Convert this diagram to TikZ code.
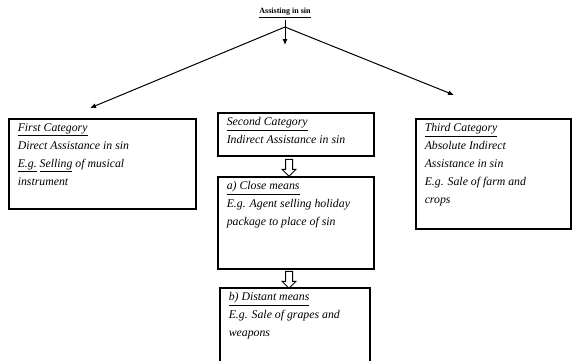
\documentclass[tikz,border=0pt]{standalone}
\usepackage{fontspec}
\setmainfont{Liberation Serif}
\usetikzlibrary{positioning, shapes, shapes.arrows, arrows.meta}

\begin{document}
\begin{tikzpicture}[
    x=1pt, y=-1pt,
    >=Latex,
    arr/.style={->, line width=1pt, >={Latex[length=6pt,width=5pt]}},
    box/.style={
        draw,
        line width=1.5pt,
        anchor=north west,
        inner xsep=9pt,
        inner ysep=5pt,
        align=left,
        font=\itshape\fontsize{11.8}{18}\selectfont
    },
    hollow/.style={
        draw,
        line width=1pt,
        single arrow,
        shape border rotate=270,
        minimum height=17pt,
        minimum width=14pt,
        single arrow head extend=3pt,
        inner sep=2.5pt
    }
]
  \useasboundingbox (0,0) rectangle (572,360);

  \node[font=\bfseries\fontsize{8}{9}\selectfont, inner sep=2pt] (title) at (285,13) {\underline{Assisting in sin}};
  \coordinate (apex) at (285,27);

  \node[box] (first) at (8,118)
    {\parbox[t][80pt][t]{169pt}{\underline{First Category}\\Direct Assistance in sin\\\underline{E.g.} \underline{Selling} of musical\\instrument}};
  \node[box] (second) at (217,112)
    {\parbox[t][33pt][t]{138pt}{\underline{Second Category}\\Indirect Assistance in sin}};
  \node[box] (close) at (217,176)
    {\parbox[t][82pt][t]{138pt}{\underline{a) Close means}\\E.g. Agent selling holiday\\package to place of sin}};
  \node[box] (distant) at (219,287)
    {\parbox[t][70pt][t]{132pt}{\underline{b) Distant means}\\E.g. Sale of grapes and\\weapons}};
  \node[box] (third) at (415,118)
    {\parbox[t][100pt][t]{137pt}{\underline{Third Category}\\Absolute Indirect\\Assistance in sin\\E.g. Sale of farm and\\crops}};

  % arrows from the title
  \coordinate (firstend) at (90,108);
  \coordinate (secondend) at (285,45);
  \coordinate (thirdend) at (454,95);
  \draw[arr] (apex) -- (firstend);
  \draw[arr] (apex) -- (secondend);
  \draw[arr] (apex) -- (thirdend);
  \draw[line width=1pt] (title.south) -- (apex);

  % block arrows
  \node[hollow] (down1) at (289,166) {};
  \node[hollow] (down2) at (289,278) {};
\end{tikzpicture}
\end{document}
